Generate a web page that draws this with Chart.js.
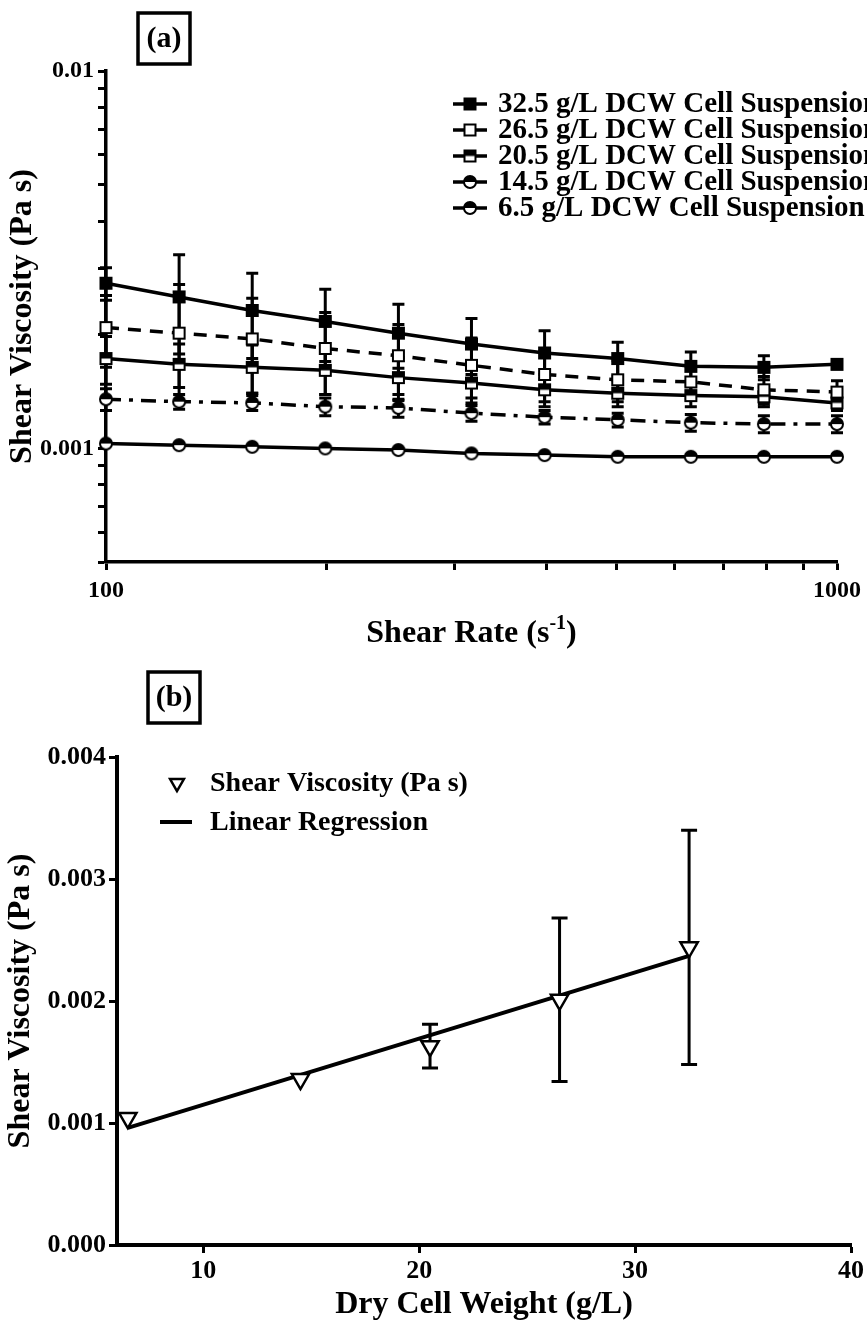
<!DOCTYPE html>
<html><head><meta charset="utf-8">
<script src="https://cdn.jsdelivr.net/npm/chart.js@4.4.1/dist/chart.umd.min.js"></script>
<style>
html,body{margin:0;padding:0;background:#fff;}
#wrap{position:relative;width:867px;height:1324px;background:#fff;overflow:hidden;}
canvas{position:absolute;left:0;}
#ca{top:0;} #cb{top:660px;}
</style></head><body>
<div id="wrap"><canvas id="ca" width="867" height="660"></canvas><canvas id="cb" width="867" height="664"></canvas></div>
<script>
// ---------- Panel (a) data ----------
const shearRate = [100, 125.9, 158.5, 199.5, 251.2, 316.2, 398.1, 501.2, 631.0, 794.3, 1000];
const visc325 = [0.00274, 0.00252, 0.00232, 0.00217, 0.00202, 0.00189, 0.00179, 0.00173, 0.00165, 0.00164, 0.00167];
const err325  = [0.00027, 0.00074, 0.00059, 0.00047, 0.00039, 0.00032, 0.00026, 0.00018, 0.00015, 0.00012, 0];
const visc265 = [0.00209, 0.00202, 0.00195, 0.00184, 0.00176, 0.00166, 0.00157, 0.00152, 0.00150, 0.00143, 0.00141];
const err265  = [0.00045, 0.00070, 0.00055, 0.00045, 0.00037, 0.00030, 0.00024, 0.00019, 0.00015, 0.00012, 0.00010];
const visc205 = [0.00173, 0.00167, 0.00164, 0.00161, 0.00154, 0.00149, 0.00143, 0.00140, 0.00138, 0.00137, 0.00132];
const err205  = [0.00025, 0.00022, 0.00024, 0.00022, 0.00020, 0.00017, 0.00014, 0.00011, 0.00009, 0.00008, 0.00006];
const visc145 = [0.00135, 0.00133, 0.00132, 0.00129, 0.00128, 0.00124, 0.00121, 0.00119, 0.00117, 0.00116, 0.00116];
const err145  = [0.00009, 0.00006, 0.00006, 0.00007, 0.00007, 0.00006, 0.00005, 0.00005, 0.00006, 0.00006, 0.00006];
const visc65  = [0.00103, 0.00102, 0.00101, 0.00100, 0.00099, 0.00097, 0.00096, 0.00095, 0.00095, 0.00095, 0.00095];
const err65   = [0.00001, 0.00001, 0.00001, 0.00001, 0.00001, 0.00001, 0.00001, 0.00001, 0.00001, 0.00001, 0.00001];
const seriesLabelsA = ['32.5 g/L DCW Cell Suspension', '26.5 g/L DCW Cell Suspension', '20.5 g/L DCW Cell Suspension', '14.5 g/L DCW Cell Suspension', '6.5 g/L DCW Cell Suspension'];
const xTicksA = [100, 200, 300, 400, 500, 600, 700, 800, 900, 1000];
const xLabelsA = [100, 1000];
const yTicksA = [0.0005, 0.0006, 0.0007, 0.0008, 0.0009, 0.001, 0.002, 0.003, 0.004, 0.005, 0.006, 0.007, 0.008, 0.009, 0.01];
const yLabelsA = [0.001, 0.01];

// ---------- Panel (b) data ----------
const dcw = [6.5, 14.5, 20.5, 26.5, 32.5];
const viscB = [0.00104, 0.00136, 0.00163, 0.00201, 0.00244];
const errB  = [0, 0, 0.00018, 0.00067, 0.00096];
const regX = [6.5, 32.5];
const regY = [0.00096, 0.00237];
const xTicksB = [10, 20, 30, 40];
const yTicksB = [0, 0.001, 0.002, 0.003, 0.004];

const FF = '"Liberation Serif","Times New Roman",Times,serif';

function makeMarker(kind, size) {
  const pad = 2, s = size + pad * 2;
  const c = document.createElement('canvas'); c.width = s; c.height = s;
  const g = c.getContext('2d'); const cx = s / 2, cy = s / 2, h = size / 2;
  g.lineWidth = 2; g.strokeStyle = '#000'; g.fillStyle = '#000';
  if (kind === 'sqFill') { g.fillRect(cx - h, cy - h, size, size); }
  else if (kind === 'sqOpen') { g.fillStyle = '#fff'; g.fillRect(cx - h, cy - h, size, size); g.strokeRect(cx - h + 1, cy - h + 1, size - 2, size - 2); }
  else if (kind === 'sqHalf') { g.fillStyle = '#fff'; g.fillRect(cx - h, cy - h, size, size); g.fillStyle = '#000'; g.fillRect(cx - h, cy - h, size, h); g.strokeRect(cx - h + 1, cy - h + 1, size - 2, size - 2); }
  else if (kind === 'circHalf') {
    g.beginPath(); g.arc(cx, cy, h - 1, 0, Math.PI * 2); g.fillStyle = '#fff'; g.fill();
    g.beginPath(); g.arc(cx, cy, h - 1, Math.PI, Math.PI * 2); g.closePath(); g.fillStyle = '#000'; g.fill();
    g.beginPath(); g.arc(cx, cy, h - 1, 0, Math.PI * 2); g.stroke();
  }
  return c;
}
const mk = { sqFill: makeMarker('sqFill', 13), sqOpen: makeMarker('sqOpen', 13), sqHalf: makeMarker('sqHalf', 13), circHalf: makeMarker('circHalf', 14) };

const errorBarPlugin = {
  id: 'errbars',
  beforeDatasetsDraw(chart) {
    const ctx = chart.ctx, xs = chart.scales.x, ys = chart.scales.y;
    chart.data.datasets.forEach(ds => {
      if (!ds.errors) return;
      ds.data.forEach((p, j) => {
        const e = ds.errors[j]; if (!e) return;
        const x = xs.getPixelForValue(p.x);
        const yT = ys.getPixelForValue(p.y + e), yB = ys.getPixelForValue(p.y - e);
        const cw = ds.capWidth / 2;
        ctx.save(); ctx.strokeStyle = '#000'; ctx.lineWidth = ds.errWidth;
        ctx.beginPath();
        ctx.moveTo(x, yT); ctx.lineTo(x, yB);
        ctx.moveTo(x - cw, yT); ctx.lineTo(x + cw, yT);
        ctx.moveTo(x - cw, yB); ctx.lineTo(x + cw, yB);
        ctx.stroke(); ctx.restore();
      });
    });
  }
};

function drawBox(ctx, x, y, w, h, txt) {
  ctx.save(); ctx.strokeStyle = '#000'; ctx.lineWidth = 3.5; ctx.strokeRect(x, y, w, h);
  ctx.fillStyle = '#000'; ctx.font = 'bold 30px ' + FF; ctx.textAlign = 'center'; ctx.textBaseline = 'middle';
  ctx.fillText(txt, x + w / 2, y + h / 2 + 1); ctx.restore();
}

const decoA = {
  id: 'decoA',
  afterDraw(chart) {
    const ctx = chart.ctx;
    drawBox(ctx, 138, 13, 52, 51, '(a)');
    // legend
    const rows = [104, 130, 156, 182, 208];
    const marks = [mk.sqFill, mk.sqOpen, mk.sqHalf, mk.circHalf, mk.circHalf];
    ctx.save();
    ctx.font = 'bold 29px ' + FF; ctx.fillStyle = '#000'; ctx.textBaseline = 'middle'; ctx.textAlign = 'left';
    rows.forEach((y, i) => {
      ctx.strokeStyle = '#000'; ctx.lineWidth = 3.5;
      ctx.beginPath(); ctx.moveTo(453, y); ctx.lineTo(487, y); ctx.stroke();
      const m = marks[i]; ctx.drawImage(m, 470 - m.width / 2, y - m.height / 2);
      ctx.fillText(seriesLabelsA[i], 498, y + 1);
    });
    // x title with superscript
    const cx = (chart.chartArea.left + chart.chartArea.right) / 2;
    const base = 642;
    ctx.font = 'bold 32px ' + FF;
    const t1 = 'Shear Rate (s', t3 = ')';
    const w1 = ctx.measureText(t1).width, w3 = ctx.measureText(t3).width;
    ctx.font = 'bold 20px ' + FF;
    const w2 = ctx.measureText('-1').width;
    let x0 = cx - (w1 + w2 + w3) / 2;
    ctx.textBaseline = 'alphabetic';
    ctx.font = 'bold 32px ' + FF; ctx.fillText(t1, x0, base);
    ctx.font = 'bold 20px ' + FF; ctx.fillText('-1', x0 + w1, base - 13);
    ctx.font = 'bold 32px ' + FF; ctx.fillText(t3, x0 + w1 + w2, base);
    ctx.restore();
  }
};

const decoB = {
  id: 'decoB',
  afterDraw(chart) {
    const ctx = chart.ctx;
    drawBox(ctx, 148, 12, 52, 51, '(b)');
    ctx.save();
    ctx.font = 'bold 28px ' + FF; ctx.fillStyle = '#000'; ctx.textBaseline = 'middle'; ctx.textAlign = 'left';
    const tx = 177, ty = 123, r = 8;
    ctx.beginPath();
    for (let k = 0; k < 3; k++) { const a = Math.PI + k * 2 * Math.PI / 3; const px = tx + Math.sin(a) * r, py = ty - Math.cos(a) * r; k ? ctx.lineTo(px, py) : ctx.moveTo(px, py); }
    ctx.closePath(); ctx.fillStyle = '#fff'; ctx.fill(); ctx.lineWidth = 2.5; ctx.strokeStyle = '#000'; ctx.stroke();
    ctx.fillStyle = '#000';
    ctx.fillText('Shear Viscosity (Pa s)', 210, ty + 1);
    ctx.lineWidth = 4; ctx.beginPath(); ctx.moveTo(160, 162); ctx.lineTo(192, 162); ctx.stroke();
    ctx.fillText('Linear Regression', 210, 163);
    ctx.restore();
  }
};

const axisCommon = (size) => ({
  grid: { display: true, drawOnChartArea: false, drawTicks: true, tickLength: 8, tickWidth: 3, tickColor: '#000' },
  border: { display: true, color: '#000', width: size }
});
const tickFontA = { family: FF, size: 24, weight: 'bold' };
const tickFontB = { family: FF, size: 26, weight: 'bold' };
const titleFont = { family: FF, size: 32, weight: 'bold' };

const dsA = [
  { vals: visc325, errs: err325, mark: mk.sqFill, dash: [] },
  { vals: visc265, errs: err265, mark: mk.sqOpen, dash: [13, 9] },
  { vals: visc205, errs: err205, mark: mk.sqHalf, dash: [] },
  { vals: visc145, errs: err145, mark: mk.circHalf, dash: [15, 8, 4, 8] },
  { vals: visc65,  errs: err65,  mark: mk.circHalf, dash: [] }
].map((s, i) => ({
  label: seriesLabelsA[i],
  data: shearRate.map((x, j) => ({ x, y: s.vals[j] })),
  borderColor: '#000', borderWidth: 3.5, borderDash: s.dash,
  pointStyle: s.mark, pointRadius: 7, pointBorderWidth: 0,
  fill: false, tension: 0, clip: false,
  errors: s.errs, capWidth: 12, errWidth: 3
}));

new Chart(document.getElementById('ca'), {
  type: 'line',
  data: { datasets: dsA },
  options: {
    responsive: false, animation: false, devicePixelRatio: 1,
    layout: { padding: { left: 0, top: 71, right: 26, bottom: 0 } },
    plugins: { legend: { display: false }, tooltip: { enabled: false }, title: { display: false } },
    scales: {
      x: Object.assign(axisCommon(3.5), {
        type: 'logarithmic', min: 100, max: 1000,
        afterBuildTicks: s => { s.ticks = xTicksA.map(v => ({ value: v })); },
        afterFit: s => { s.height = 98; },
        ticks: { autoSkip: false, maxRotation: 0, padding: 6, color: '#000', font: tickFontA,
                 callback: v => xLabelsA.includes(v) ? String(v) : '' }
      }),
      y: Object.assign(axisCommon(3.5), {
        type: 'logarithmic', min: 0.0005, max: 0.01,
        afterBuildTicks: s => { s.ticks = yTicksA.map(v => ({ value: v })); },
        afterFit: s => { s.width = 106; },
        ticks: { autoSkip: false, padding: 4, color: '#000', font: tickFontA,
                 callback: v => yLabelsA.includes(v) ? String(v) : '' },
        title: { display: true, text: 'Shear Viscosity (Pa s)', color: '#000', font: titleFont, padding: { top: 4, bottom: 0 } }
      })
    }
  },
  plugins: [errorBarPlugin, decoA]
});

new Chart(document.getElementById('cb'), {
  type: 'line',
  data: { datasets: [
    { label: 'Shear Viscosity (Pa s)', data: dcw.map((x, j) => ({ x, y: viscB[j] })), showLine: false,
      pointStyle: 'triangle', rotation: 180, pointRadius: 10, pointBackgroundColor: '#fff', pointBorderColor: '#000', pointBorderWidth: 2.5,
      clip: false, errors: errB, capWidth: 16, errWidth: 3 },
    { label: 'Linear Regression', data: regX.map((x, j) => ({ x, y: regY[j] })), borderColor: '#000', borderWidth: 4,
      pointRadius: 0, fill: false, tension: 0, clip: false }
  ] },
  options: {
    responsive: false, animation: false, devicePixelRatio: 1,
    layout: { padding: { left: 0, top: 97, right: 16, bottom: 0 } },
    plugins: { legend: { display: false }, tooltip: { enabled: false }, title: { display: false } },
    scales: {
      x: Object.assign(axisCommon(4), {
        type: 'linear', min: 6, max: 40,
        afterBuildTicks: s => { s.ticks = xTicksB.map(v => ({ value: v })); },
        afterFit: s => { s.height = 79; },
        ticks: { autoSkip: false, maxRotation: 0, padding: 3, color: '#000', font: tickFontB },
        title: { display: true, text: 'Dry Cell Weight (g/L)', color: '#000', font: titleFont, padding: { top: 0, bottom: 0 } }
      }),
      y: Object.assign(axisCommon(4), {
        type: 'linear', min: 0, max: 0.004,
        afterBuildTicks: s => { s.ticks = yTicksB.map(v => ({ value: v })); },
        afterFit: s => { s.width = 117; },
        ticks: { autoSkip: false, padding: 3, color: '#000', font: tickFontB, callback: v => Number(v).toFixed(3) },
        title: { display: true, text: 'Shear Viscosity (Pa s)', color: '#000', font: titleFont, padding: { top: 2, bottom: 0 } }
      })
    }
  },
  plugins: [errorBarPlugin, decoB]
});
</script>
</body></html>
